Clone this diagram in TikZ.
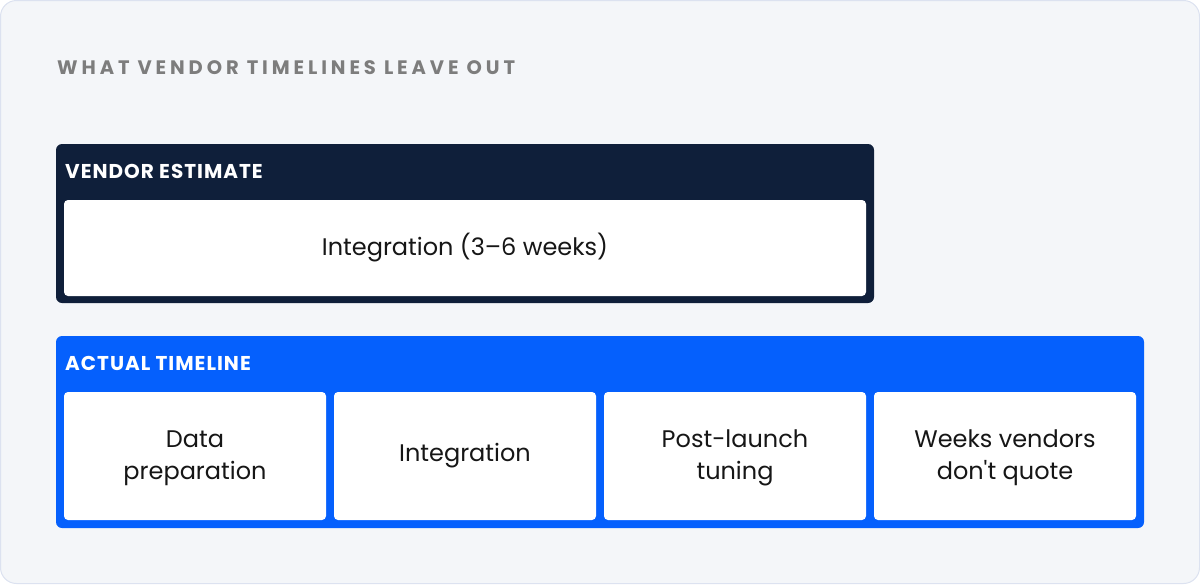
\documentclass[tikz,border=0pt]{standalone}
\usepackage{fontspec}
\setmainfont{Poppins}[Ligatures=TeXOff]
\newfontfamily\titlefont[LetterSpace=20]{Poppins}
\newfontfamily\hdrfont[LetterSpace=5]{Poppins}
\definecolor{bgc}{HTML}{F4F6F9}
\definecolor{bord}{HTML}{DCE2F0}
\definecolor{navy}{HTML}{0F1F3A}
\definecolor{blu}{HTML}{0560FD}
\definecolor{ttl}{HTML}{7D7D7D}
\definecolor{txt}{HTML}{161616}
\tikzset{
  panel/.style={rectangle, rounded corners=6pt, inner sep=0pt},
  cell/.style={rectangle, fill=white, rounded corners=4pt, inner sep=0pt, align=center,
    text=txt, font=\fontsize{24}{32}\selectfont},
  hdr/.style={anchor=base west, inner sep=0pt, text=white, font=\fontsize{20}{20}\selectfont\hdrfont\bfseries},
}
\begin{document}
\begin{tikzpicture}[x=1pt,y=-1pt]
\useasboundingbox (0,0) rectangle (1200,584);
\draw[rounded corners=16pt, fill=bgc, draw=bord, line width=1pt] (0.5,0.5) rectangle (1199.5,583.5);
\node[anchor=base west, inner sep=0pt, text=ttl, font=\fontsize{19.5}{19.5}\selectfont\titlefont\bfseries] (title) at (57,74) {WHAT VENDOR TIMELINES LEAVE OUT};
\node[panel, fill=navy, minimum width=818pt, minimum height=159pt] (vendor) at (465,223.5) {};
\node[hdr] (vlabel) at (65,178) {VENDOR ESTIMATE};
\node[cell, minimum width=802pt, minimum height=96pt] (vint) at (465,248) {Integration (3–6 weeks)};
\node[panel, fill=blu, minimum width=1088pt, minimum height=192pt] (actual) at (600,432) {};
\node[hdr] (alabel) at (65,370) {ACTUAL TIMELINE};
\node[cell, minimum width=262pt, minimum height=128pt, text depth=2pt] (c1) at (195,456) {Data\\preparation};
\node[cell, minimum width=262pt, minimum height=128pt] (c2) at (465,456) {Integration};
\node[cell, minimum width=262pt, minimum height=128pt, text depth=2pt] (c3) at (735,456) {Post-launch\\tuning};
\node[cell, minimum width=262pt, minimum height=128pt, text depth=2pt] (c4) at (1005,456) {Weeks vendors\\don't quote};
\end{tikzpicture}
\end{document}
